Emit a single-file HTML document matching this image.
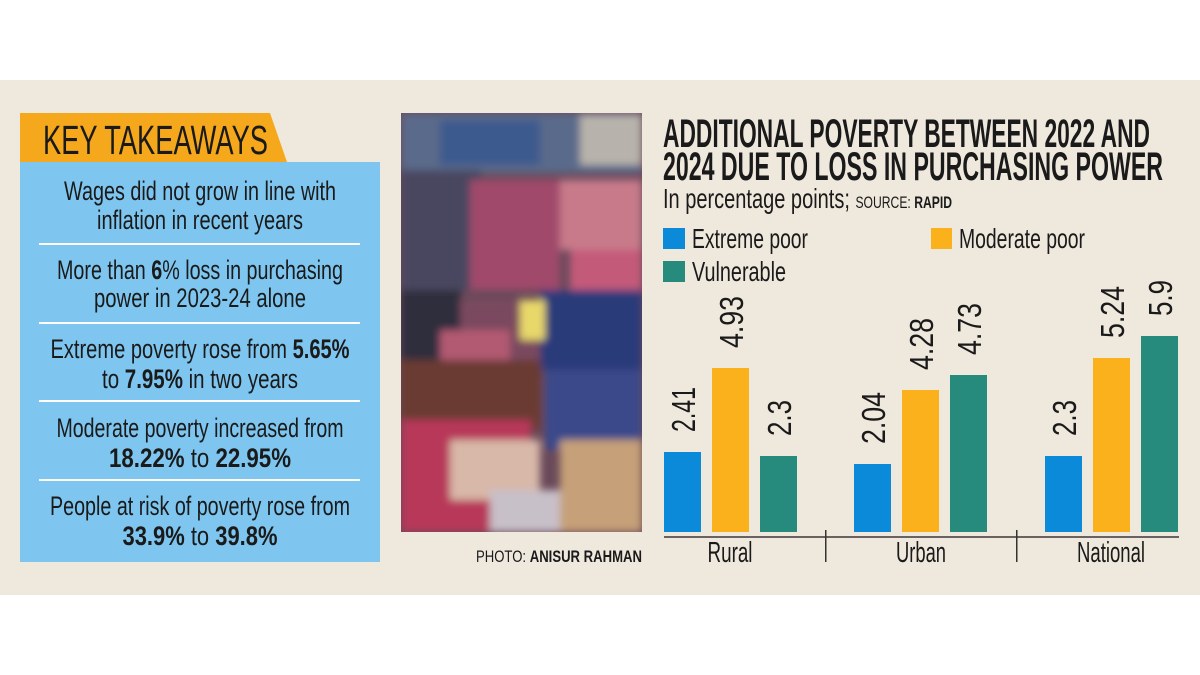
<!DOCTYPE html>
<html><head><meta charset="utf-8"><style>
html,body{margin:0;padding:0;background:#fff}
svg{display:block}
text{font-family:"Liberation Sans Narrow","Liberation Sans",sans-serif;fill:#1a1a1a}
</style></head><body>
<svg width="1200" height="675" viewBox="0 0 1200 675" xmlns="http://www.w3.org/2000/svg">
<defs>
<filter id="bl" x="-20%" y="-20%" width="140%" height="140%"><feGaussianBlur stdDeviation="4"/></filter>
<clipPath id="pc"><rect x="401" y="113" width="241" height="419"/></clipPath>
</defs>
<rect x="0" y="0" width="1200" height="675" fill="#fff"/>
<rect x="0" y="80" width="1200" height="515" fill="#efe8dd"/>

<!-- Left box -->
<polygon points="20,113 270,113 287,162 20,162" fill="#f6a81c"/>
<text x="43" y="154" font-size="41" textLength="225" lengthAdjust="spacingAndGlyphs">KEY TAKEAWAYS</text>
<rect x="20" y="162" width="360" height="400" fill="#7ec6ef"/>
<g fill="#fff"><rect x="39" y="243" width="321" height="2"/><rect x="39" y="322" width="321" height="2"/><rect x="39" y="400" width="321" height="2"/><rect x="39" y="479" width="321" height="2"/></g>
<g font-size="27" text-anchor="middle">
<text x="200" y="200" textLength="272" lengthAdjust="spacingAndGlyphs">Wages did not grow in line with</text>
<text x="200" y="229" textLength="206" lengthAdjust="spacingAndGlyphs">inflation in recent years</text>
<text x="200" y="279" textLength="286" lengthAdjust="spacingAndGlyphs">More than <tspan font-weight="bold">6</tspan>% loss in purchasing</text>
<text x="200" y="307" textLength="212" lengthAdjust="spacingAndGlyphs">power in 2023-24 alone</text>
<text x="200" y="358" textLength="299" lengthAdjust="spacingAndGlyphs">Extreme poverty rose from <tspan font-weight="bold">5.65%</tspan></text>
<text x="200" y="388" textLength="196" lengthAdjust="spacingAndGlyphs">to <tspan font-weight="bold">7.95%</tspan> in two years</text>
<text x="200" y="437" textLength="287" lengthAdjust="spacingAndGlyphs">Moderate poverty increased from</text>
<text x="200" y="467" textLength="182" lengthAdjust="spacingAndGlyphs"><tspan font-weight="bold">18.22%</tspan> to <tspan font-weight="bold">22.95%</tspan></text>
<text x="200" y="515" textLength="300" lengthAdjust="spacingAndGlyphs">People at risk of poverty rose from</text>
<text x="200" y="545" textLength="155" lengthAdjust="spacingAndGlyphs"><tspan font-weight="bold">33.9%</tspan> to <tspan font-weight="bold">39.8%</tspan></text>
</g>

<!-- Photo approximation -->
<g clip-path="url(#pc)">
<rect x="401" y="113" width="241" height="419" fill="#6a4a5a"/>
<g filter="url(#bl)">
<rect x="401" y="113" width="241" height="60" fill="#5a6a8a"/>
<rect x="440" y="120" width="100" height="45" fill="#3e5a8e"/>
<rect x="580" y="115" width="62" height="50" fill="#b8b2ac"/>
<rect x="401" y="170" width="80" height="120" fill="#4a4660"/>
<rect x="470" y="180" width="90" height="110" fill="#a04a6a"/>
<rect x="560" y="180" width="82" height="70" fill="#c87a8a"/>
<rect x="570" y="250" width="72" height="60" fill="#c45a7a"/>
<rect x="401" y="290" width="60" height="90" fill="#2e2e3e"/>
<rect x="460" y="300" width="80" height="60" fill="#7a4a5e"/>
<rect x="540" y="290" width="102" height="80" fill="#2a3a7a"/>
<rect x="440" y="330" width="70" height="50" fill="#b25a72"/>
<rect x="520" y="300" width="25" height="40" fill="#e8d86a"/>
<rect x="401" y="360" width="140" height="70" fill="#6a3a30"/>
<rect x="545" y="370" width="97" height="80" fill="#3a4a8a"/>
<rect x="560" y="440" width="82" height="92" fill="#c6a078"/>
<rect x="401" y="420" width="130" height="112" fill="#b8385a"/>
<rect x="450" y="440" width="90" height="60" fill="#d8b8a8"/>
<rect x="490" y="490" width="70" height="42" fill="#c8c0c8"/>
</g>
</g>
<text x="642" y="562" font-size="17" text-anchor="end" textLength="166" lengthAdjust="spacingAndGlyphs">PHOTO: <tspan font-weight="bold">ANISUR RAHMAN</tspan></text>

<!-- Title -->
<g font-weight="bold" font-size="40">
<text x="663" y="147" textLength="487" lengthAdjust="spacingAndGlyphs">ADDITIONAL POVERTY BETWEEN 2022 AND</text>
<text x="663" y="180" textLength="500" lengthAdjust="spacingAndGlyphs">2024 DUE TO LOSS IN PURCHASING POWER</text>
</g>
<text x="663" y="208" font-size="28" textLength="289" lengthAdjust="spacingAndGlyphs">In percentage points; <tspan font-size="17">SOURCE: </tspan><tspan font-size="17" font-weight="bold">RAPID</tspan></text>
<rect x="663" y="228" width="22" height="21" fill="#0a8ad9"/>
<text x="692" y="248" font-size="28" textLength="116" lengthAdjust="spacingAndGlyphs">Extreme poor</text>
<rect x="931" y="228" width="21" height="21" fill="#fbb11c"/>
<text x="959" y="248" font-size="28" textLength="126" lengthAdjust="spacingAndGlyphs">Moderate poor</text>
<rect x="663" y="261" width="22" height="21" fill="#268a7c"/>
<text x="692" y="281" font-size="28" textLength="94" lengthAdjust="spacingAndGlyphs">Vulnerable</text>

<!-- Bars -->
<g>
<rect x="664" y="452" width="37" height="80" fill="#0a8ad9"/>
<rect x="712" y="368" width="37" height="164" fill="#fbb11c"/>
<rect x="760" y="456" width="37" height="76" fill="#268a7c"/>
<rect x="854" y="464" width="37" height="68" fill="#0a8ad9"/>
<rect x="902" y="390" width="37" height="142" fill="#fbb11c"/>
<rect x="950" y="375" width="37" height="157" fill="#268a7c"/>
<rect x="1045" y="456" width="37" height="76" fill="#0a8ad9"/>
<rect x="1093" y="358" width="37" height="174" fill="#fbb11c"/>
<rect x="1141" y="336" width="37" height="196" fill="#268a7c"/>
</g>
<g font-size="33">
<text transform="translate(695,432) rotate(-90)" textLength="45" lengthAdjust="spacingAndGlyphs">2.41</text>
<text transform="translate(743,348) rotate(-90)" textLength="52" lengthAdjust="spacingAndGlyphs">4.93</text>
<text transform="translate(791,436) rotate(-90)" textLength="36" lengthAdjust="spacingAndGlyphs">2.3</text>
<text transform="translate(885,444) rotate(-90)" textLength="52" lengthAdjust="spacingAndGlyphs">2.04</text>
<text transform="translate(933,370) rotate(-90)" textLength="52" lengthAdjust="spacingAndGlyphs">4.28</text>
<text transform="translate(981,355) rotate(-90)" textLength="52" lengthAdjust="spacingAndGlyphs">4.73</text>
<text transform="translate(1076,436) rotate(-90)" textLength="36" lengthAdjust="spacingAndGlyphs">2.3</text>
<text transform="translate(1124,338) rotate(-90)" textLength="52" lengthAdjust="spacingAndGlyphs">5.24</text>
<text transform="translate(1172,316) rotate(-90)" textLength="36" lengthAdjust="spacingAndGlyphs">5.9</text>
</g>
<rect x="664" y="536" width="515" height="2" fill="#6a6262"/>
<rect x="825" y="530" width="1.5" height="32" fill="#333"/>
<rect x="1016" y="530" width="1.5" height="32" fill="#333"/>
<g font-size="29" text-anchor="middle">
<text x="730" y="562" textLength="45" lengthAdjust="spacingAndGlyphs">Rural</text>
<text x="921" y="562" textLength="50" lengthAdjust="spacingAndGlyphs">Urban</text>
<text x="1111" y="562" textLength="68" lengthAdjust="spacingAndGlyphs">National</text>
</g>
</svg>
</body></html>
